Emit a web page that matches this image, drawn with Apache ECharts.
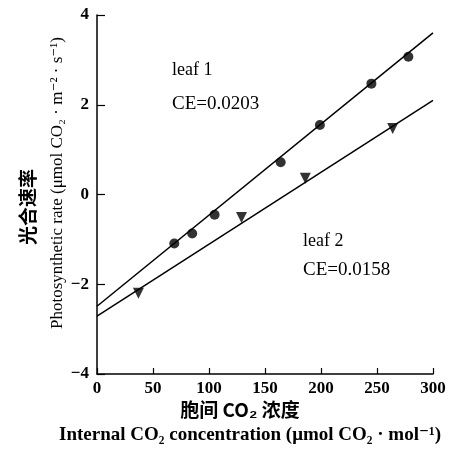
<!DOCTYPE html>
<html>
<head>
<meta charset="utf-8">
<script src="https://cdn.jsdelivr.net/npm/echarts@6/dist/echarts.min.js"></script>
<style>
  html, body { margin: 0; padding: 0; background: #fff; }
  #chart { width: 456px; height: 452px; }
</style>
</head>
<body>
<div id="chart"></div>
<script>
// leaf 1 测点 (圆点)
const leaf1X = [69, 85, 105, 164, 199, 245, 278];
const leaf1Y = [-1.09, -0.87, -0.45, 0.72, 1.55, 2.47, 3.07];
// leaf 2 测点 (倒三角)
const leaf2X = [37, 129, 186, 264];
const leaf2Y = [-2.2, -0.51, 0.36, 1.47];
// 拟合直线端点
const fit1 = [[0, -2.49], [300, 3.6]];
const fit2 = [[0, -2.71], [300, 2.1]];

const xTicks = [0, 50, 100, 150, 200, 250, 300];
const yTicks = [-4, -2, 0, 2, 4];

const serif = '"Liberation Serif", "DejaVu Serif", serif';
const cjk = '"Noto Sans CJK SC", sans-serif';

const chart = echarts.init(document.getElementById('chart'));

const option = {
    animation: false,
    grid: { left: 97, right: 23, top: 15, bottom: 78 },
    xAxis: {
        type: 'value', min: xTicks[0], max: xTicks[xTicks.length - 1], interval: 50,
        axisLine: { onZero: false, lineStyle: { color: '#000', width: 1.5 } },
        axisTick: { inside: true, length: 6, lineStyle: { color: '#000', width: 1.2 } },
        axisLabel: { color: '#000', fontFamily: serif, fontSize: 17, fontWeight: 'bold', margin: 6 },
        splitLine: { show: false }
    },
    yAxis: {
        type: 'value', min: yTicks[0], max: yTicks[yTicks.length - 1], interval: 2,
        axisLine: { onZero: false, lineStyle: { color: '#000', width: 1.5 } },
        axisTick: { inside: true, length: 8, lineStyle: { color: '#000', width: 1.2 } },
        axisLabel: {
            color: '#000', fontFamily: serif, fontSize: 17, fontWeight: 'bold', margin: 8,
            formatter: v => (v < 0 ? '\u2212' + Math.abs(v) : String(v))
        },
        splitLine: { show: false }
    },
    graphic: [
        { type: 'text', x: 172, y: 70, style: { text: 'leaf 1', font: '18px ' + serif, fill: '#000', verticalAlign: 'middle' } },
        { type: 'text', x: 172, y: 104, style: { text: 'CE=0.0203', font: '19px ' + serif, fill: '#000', verticalAlign: 'middle' } },
        { type: 'text', x: 303, y: 241, style: { text: 'leaf 2', font: '18px ' + serif, fill: '#000', verticalAlign: 'middle' } },
        { type: 'text', x: 303, y: 270, style: { text: 'CE=0.0158', font: '19px ' + serif, fill: '#000', verticalAlign: 'middle' } },
        {
            type: 'text', x: 28, y: 207, rotation: Math.PI / 2,
            style: { text: '光合速率', font: 'bold 19px ' + cjk, fill: '#000', align: 'center', verticalAlign: 'middle' }
        },
        {
            type: 'text', x: 58, y: 183, rotation: Math.PI / 2,
            style: {
                text: 'Photosynthetic rate (\u03bcmol CO\u2082 \u00b7 m\u207b\u00b2 \u00b7 s\u207b\u00b9)',
                font: '17px ' + serif, fill: '#000', align: 'center', verticalAlign: 'middle'
            }
        },
        {
            type: 'text', x: 240, y: 410,
            style: { text: '胞间 CO\u2082 浓度', font: 'bold 19px ' + cjk, fill: '#000', align: 'center', verticalAlign: 'middle' }
        },
        {
            type: 'text', x: 250, y: 435,
            style: {
                text: 'Internal CO\u2082 concentration (\u03bcmol CO\u2082 \u00b7 mol\u207b\u00b9)',
                font: 'bold 19px ' + serif, fill: '#000', align: 'center', verticalAlign: 'middle'
            }
        }
    ],
    series: [
        {
            type: 'line', data: fit1, symbol: 'none',
            lineStyle: { color: '#000', width: 1.5 }
        },
        {
            type: 'line', data: fit2, symbol: 'none',
            lineStyle: { color: '#000', width: 1.5 }
        },
        {
            type: 'scatter', data: leaf1X.map((x, i) => [x, leaf1Y[i]]),
            symbol: 'circle', symbolSize: 10, itemStyle: { color: '#000' }
        },
        {
            type: 'scatter', data: leaf2X.map((x, i) => [x, leaf2Y[i]]),
            symbol: 'triangle', symbolRotate: 180, symbolSize: 11, itemStyle: { color: '#000' }
        }
    ]
};
chart.setOption(option);
</script>
</body>
</html>
